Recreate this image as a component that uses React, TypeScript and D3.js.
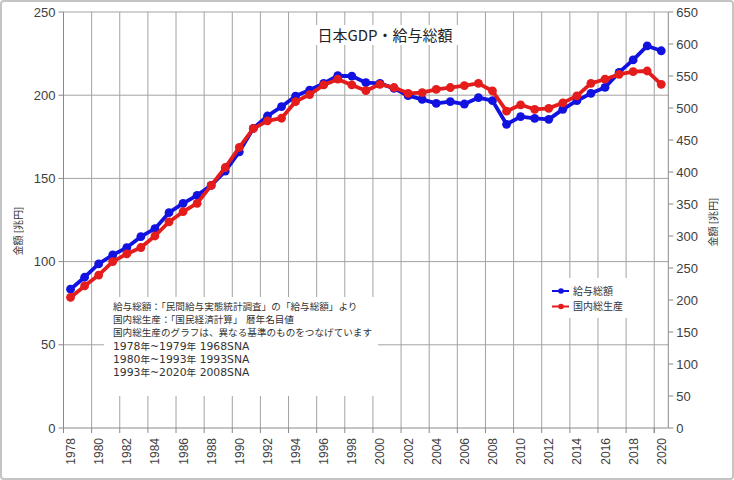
import React from "react";
import * as d3 from "d3";

const years: number[] = d3.range(1978, 2021);
const salaryTotal: number[] = [
  83.4, 90.6, 98.6, 104.0, 108.4, 115.0, 119.8, 129.4, 135.0, 139.8,
  145.8, 154.4, 166.0, 180.1, 187.5, 193.1, 199.5, 203.1, 207.1, 211.7,
  211.5, 207.5, 207.1, 204.1, 199.7, 197.5, 195.1, 196.1, 194.7, 198.5,
  196.7, 182.5, 187.1, 186.1, 185.5, 191.5, 196.7, 201.1, 204.7, 213.7,
  221.2, 229.6, 226.7,
];
const gdp: number[] = [
  204, 222, 239, 260, 272, 282, 300, 322, 338, 351,
  379, 407, 438.6, 468, 480, 484, 510, 521, 536, 545,
  536, 527, 537, 532, 523, 524, 529, 532, 535, 538.6,
  526.6, 495, 505, 498, 499.5, 508, 519, 538.5, 545, 552.6,
  556.7, 557.8, 537,
];
const leftTicks: number[] = [0, 50, 100, 150, 200, 250];
const rightTicks: number[] = d3.range(0, 651, 50);
const xLabelYears: number[] = years.filter((y) => y % 2 === 0);
const title = "日本GDP・給与総額";
const axisTitle = "金額 [兆円]";
const seriesNames: string[] = ["給与総額", "国内総生産"];
const noteLines: string[] = [
  "給与総額：「民間給与実態統計調査」の「給与総額」より",
  "国内総生産：「国民経済計算」 暦年名目値",
  "国内総生産のグラフは、異なる基準のものをつなげています",
  "1978年~1979年 1968SNA",
  "1980年~1993年 1993SNA",
  "1993年~2020年  2008SNA",
];

const BLUE = "#1212e0";
const RED = "#e41c1c";
const FONT = "'Noto Sans CJK JP', 'Noto Sans', sans-serif";
const NUMFONT = "'Liberation Sans', Arial, sans-serif";
const WIDEFONT = "'DejaVu Sans', 'Liberation Sans', sans-serif";

function splitRuns(s: string): { t: string; ascii: boolean }[] {
  const out: { t: string; ascii: boolean }[] = [];
  const re = /[\x20-\x7E]+|[^\x20-\x7E]+/g;
  let m: RegExpExecArray | null;
  while ((m = re.exec(s)) !== null) {
    out.push({ t: m[0], ascii: /^[\x20-\x7E]/.test(m[0]) });
  }
  return out;
}

export default function App() {
  const W = 734, H = 480;
  const left = 63.5, right = 668.3, top = 12, bottom = 428;
  const x = d3.scaleBand<number>().domain(years).range([left, right]).padding(0);
  const bw = x.bandwidth();
  const cx = (y: number) => (x(y) as number) + bw / 2;
  const yL = d3.scaleLinear().domain([0, 250]).range([bottom, top]);
  const yR = d3.scaleLinear().domain([0, 650]).range([bottom, top]);

  const lineL = d3.line<number>().x((_, i) => cx(years[i])).y((d) => yL(d));
  const lineR = d3.line<number>().x((_, i) => cx(years[i])).y((d) => yR(d));

  const gridColor = "#a3a3a3";
  const axisColor = "#8a8a8a";
  const textColor = "#404040";

  return (
    <svg width={W} height={H} style={{ position: "absolute", left: 0, top: 0, background: "#fff" }}>
      <rect x={1} y={1} width={W - 2} height={H - 2} rx={3} fill="#fff" stroke="#c4c4c4" strokeWidth={2} />
      {/* horizontal gridlines */}
      {leftTicks.filter((t) => t > 0).map((t) => (
        <line key={"h" + t} x1={left} x2={right} y1={yL(t)} y2={yL(t)} stroke={gridColor} strokeWidth={1} />
      ))}
      {/* vertical gridlines at category boundaries */}
      {xLabelYears.filter((y) => y > 1978).map((y) => (
        <line key={"v" + y} x1={x(y)} x2={x(y)} y1={top} y2={bottom} stroke={gridColor} strokeWidth={1} />
      ))}
      {/* white boxes (title, note, legend) */}
      <rect x={312} y={25} width={146} height={20} fill="#fff" />
      <rect x={104} y={297} width={274} height={99} fill="#fff" />
      <rect x={545} y={278} width={84} height={40} fill="#fff" />

      {/* axes */}
      <line x1={left} x2={left} y1={top} y2={bottom} stroke={axisColor} />
      <line x1={right} x2={right} y1={top} y2={bottom} stroke={axisColor} />
      <line x1={left} x2={right} y1={bottom} y2={bottom} stroke={axisColor} />
      {leftTicks.map((t) => (
        <g key={"lt" + t}>
          <line x1={left - 5} x2={left} y1={yL(t)} y2={yL(t)} stroke={axisColor} />
          <text x={left - 8} y={yL(t)} dy="0.35em" textAnchor="end" fontSize={13} fill={textColor} fontFamily={NUMFONT}>{t}</text>
        </g>
      ))}
      {rightTicks.map((t) => (
        <g key={"rt" + t}>
          <line x1={right} x2={right + 5} y1={yR(t)} y2={yR(t)} stroke={axisColor} />
          <text x={right + 8} y={yR(t)} dy="0.35em" textAnchor="start" fontSize={13} fill={textColor} fontFamily={NUMFONT}>{t}</text>
        </g>
      ))}
      {xLabelYears.map((y) => (
        <g key={"xt" + y}>
          <line x1={x(y)} x2={x(y)} y1={bottom} y2={bottom + 5} stroke={axisColor} />
          <text transform={`translate(${cx(y) + 4.5},${bottom + 10}) rotate(-90)`} textAnchor="end" fontSize={12} fill={textColor} fontFamily={NUMFONT}>{y}</text>
        </g>
      ))}
      <line x1={right - bw} x2={right - bw} y1={bottom} y2={bottom + 5} stroke={axisColor} />

      {/* axis titles */}
      <text transform={`translate(${22},${231}) rotate(-90)`} textAnchor="middle" fontSize={10} fill="#333" fontFamily={FONT}>{axisTitle}</text>
      <text transform={`translate(${717},${222}) rotate(-90)`} textAnchor="middle" fontSize={10} fill="#333" fontFamily={FONT}>{axisTitle}</text>

      {/* title */}
      <text x={385} y={41} textAnchor="middle" fontSize={15} fill="#222" fontFamily={FONT}>{title}</text>

      {/* note */}
      {noteLines.map((s, i) => (
        <text key={"n" + i} x={113} y={310 + i * 13.2} fontSize={9.6} fill="#333" fontFamily={FONT}>
          {splitRuns(s).map((r, j) =>
            r.ascii ? (
              <tspan key={j} fontFamily={WIDEFONT} fontSize={10.8}>{r.t}</tspan>
            ) : (
              <tspan key={j}>{r.t}</tspan>
            )
          )}
        </text>
      ))}

      {/* legend */}
      {seriesNames.map((s, i) => {
        const c = i === 0 ? BLUE : RED;
        const ly = 291 + i * 15.5;
        return (
          <g key={"lg" + i}>
            <line x1={552} x2={569} y1={ly} y2={ly} stroke={c} strokeWidth={2} />
            <circle cx={561} cy={ly} r={2.8} fill={c} />
            <text x={573} y={ly} dy="0.35em" fontSize={10} fill="#333" fontFamily={FONT}>{s}</text>
          </g>
        );
      })}

      {/* series */}
      <path d={lineL(salaryTotal) || ""} fill="none" stroke={BLUE} strokeWidth={3.8} strokeLinejoin="round" />
      {salaryTotal.map((v, i) => (
        <circle key={"b" + i} cx={cx(years[i])} cy={yL(v)} r={4.4} fill={BLUE} />
      ))}
      <path d={lineR(gdp) || ""} fill="none" stroke={RED} strokeWidth={3.8} strokeLinejoin="round" />
      {gdp.map((v, i) => (
        <circle key={"r" + i} cx={cx(years[i])} cy={yR(v)} r={4.4} fill={RED} />
      ))}
    </svg>
  );
}
